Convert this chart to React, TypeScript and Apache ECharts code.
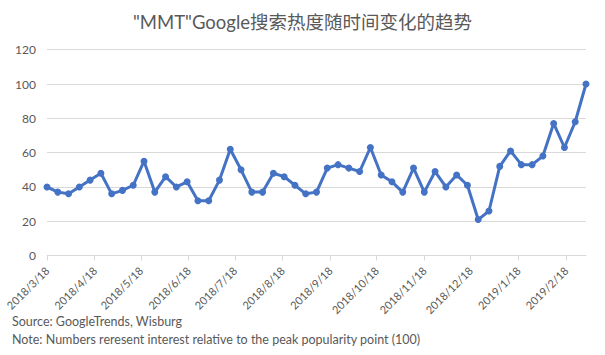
import React, { useEffect, useRef } from "react";
import * as echarts from "echarts";

const START = { y: 2018, m: 3, d: 18 };
const values = [
  40, 37, 36, 40, 44, 48, 36, 38, 41, 55,
  37, 46, 40, 43, 32, 32, 44, 62, 50, 37,
  37, 48, 46, 41, 36, 37, 51, 53, 51, 49,
  63, 47, 43, 37, 51, 37, 49, 40, 47, 41,
  21, 26, 52, 61, 53, 53, 58, 77, 63, 78,
  100,
];
const tickMonths: [number, number][] = [
  [2018, 3], [2018, 4], [2018, 5], [2018, 6], [2018, 7], [2018, 8],
  [2018, 9], [2018, 10], [2018, 11], [2018, 12], [2019, 1], [2019, 2],
];
const yTicks = [0, 20, 40, 60, 80, 100, 120];
const title = '"MMT"Google搜索热度随时间变化的趋势';
const sourceText = "Source: GoogleTrends, Wisburg";
const noteText = "Note: Numbers reresent interest relative to the peak popularity point (100)";

const DAY = 86400000;
const startTs = Date.UTC(START.y, START.m - 1, START.d);
const weekDates = values.map((_, i) => startTs + i * 7 * DAY);
const tickTs = tickMonths.map(([y, m]) => Date.UTC(y, m - 1, 18));

const fmt = (ts: number) => {
  const d = new Date(ts);
  return `${d.getUTCFullYear()}/${d.getUTCMonth() + 1}/${d.getUTCDate()}`;
};

const FONT = "Lato, 'Noto Sans CJK SC', sans-serif";
const GRAY = "#595959";

export default function App() {
  const ref = useRef<HTMLDivElement>(null);
  useEffect(() => {
    if (!ref.current) return;
    const chart = echarts.init(ref.current, null, { renderer: "svg" });
    chart.setOption({
      animation: false,
      backgroundColor: "#ffffff",
      textStyle: { fontFamily: FONT },
      title: {
        text: title,
        left: "center",
        top: 8,
        textStyle: { fontFamily: FONT, fontSize: 18.5, fontWeight: "normal", color: GRAY },
      },
      grid: { left: 47, right: 19, top: 49.7, bottom: 99.4, containLabel: false },
      xAxis: {
        type: "value",
        min: startTs,
        max: weekDates[weekDates.length - 1],
        axisLine: { show: true, lineStyle: { color: "#d9d9d9", width: 1 } },
        axisTick: {
          show: true,
          length: 5,
          lineStyle: { color: "#d9d9d9" },
          customValues: tickTs,
        },
        axisLabel: {
          customValues: tickTs,
          rotate: 45,
          margin: 13,
          fontSize: 11,
          color: GRAY,
          fontFamily: FONT,
          formatter: (v: number) => fmt(v),
        },
        splitLine: { show: false },
      },
      yAxis: {
        type: "value",
        min: yTicks[0],
        max: yTicks[yTicks.length - 1],
        interval: 20,
        axisLine: { show: false },
        axisTick: { show: false },
        axisLabel: { fontSize: 12, color: GRAY, fontFamily: FONT, margin: 11 },
        splitLine: { lineStyle: { color: "#d9d9d9", width: 1 } },
      },
      series: [
        {
          type: "line",
          data: values.map((v, i) => [weekDates[i], v]),
          symbol: "circle",
          symbolSize: 7,
          showSymbol: true,
          itemStyle: { color: "#4472C4" },
          lineStyle: { color: "#4472C4", width: 3 },
        },
      ],
      graphic: [
        {
          type: "text",
          left: 12,
          top: 315,
          style: { text: sourceText, fontSize: 12.5, fill: GRAY, fontFamily: FONT },
        },
        {
          type: "text",
          left: 12,
          top: 333,
          style: { text: noteText, fontSize: 12.5, fill: GRAY, fontFamily: FONT },
        },
      ],
    });
    return () => chart.dispose();
  }, []);
  return (
    <div
      ref={ref}
      style={{ position: "fixed", left: 0, top: 0, width: 605, height: 355 }}
    />
  );
}
